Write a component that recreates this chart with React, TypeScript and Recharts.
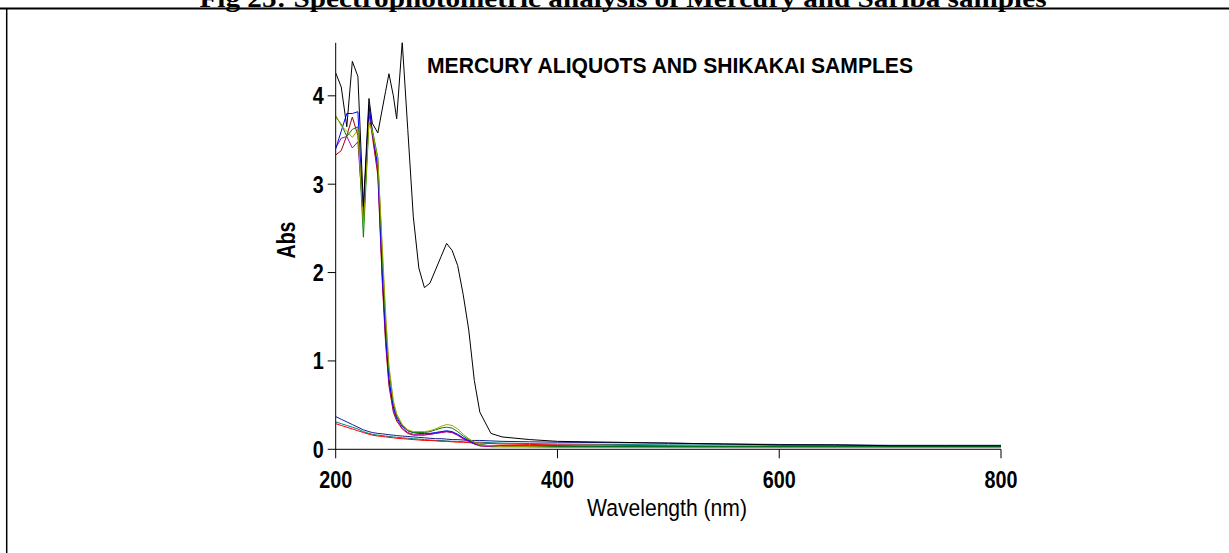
import { LineChart, Line, XAxis, YAxis } from "recharts";

// wavelength grid (nm) shared by every trace
const WAVELENGTH = [
  200, 205, 210, 215, 220, 225, 230, 233, 238, 242, 245, 248, 252, 255, 260, 265, 270,
  275, 280, 285, 290, 295, 300, 305, 310, 315, 320, 325, 330, 340, 350, 375, 400, 450,
  500, 550, 600, 650, 700, 750, 800,
];

// mercury aliquot (black trace)
const MERCURY = [
  4.26, 4.1, 3.65, 4.39, 4.22, 2.75, 3.97, 3.69, 3.58, 3.85, 4.05, 4.25, 4.0, 3.74, 4.61, 3.62, 2.63,
  2.05, 1.83, 1.88, 2.03, 2.18, 2.33, 2.25, 2.08, 1.75, 1.35, 0.78, 0.42, 0.18, 0.14, 0.11, 0.09, 0.08,
  0.07, 0.06, 0.05, 0.05, 0.04, 0.04, 0.04,
];

// shikakai samples
const BLUE = [
  3.4, 3.6, 3.8, 3.8, 3.82, 2.65, 3.9, 3.6, 3.2, 2.0, 1.31, 0.8, 0.48, 0.36, 0.26, 0.21, 0.19,
  0.18, 0.18, 0.18, 0.19, 0.2, 0.21, 0.2, 0.17, 0.13, 0.1, 0.07, 0.05, 0.04, 0.04, 0.04, 0.04, 0.03,
  0.03, 0.03, 0.03, 0.03, 0.03, 0.03, 0.03,
];
const MAROON = [
  3.33, 3.38, 3.55, 3.76, 3.55, 2.7, 3.8, 3.55, 3.1, 1.9, 1.2, 0.72, 0.42, 0.32, 0.23, 0.18, 0.16,
  0.16, 0.16, 0.17, 0.18, 0.19, 0.2, 0.19, 0.16, 0.12, 0.09, 0.06, 0.04, 0.03, 0.03, 0.03, 0.03, 0.03,
  0.02, 0.02, 0.02, 0.02, 0.02, 0.02, 0.02,
];
const MAGENTA = [
  3.41, 3.52, 3.54, 3.41, 3.48, 2.6, 3.87, 3.6, 3.15, 1.95, 1.25, 0.76, 0.45, 0.34, 0.24, 0.19, 0.17,
  0.17, 0.17, 0.17, 0.18, 0.19, 0.2, 0.19, 0.16, 0.12, 0.09, 0.06, 0.04, 0.03, 0.03, 0.03, 0.03, 0.03,
  0.03, 0.02, 0.02, 0.02, 0.02, 0.02, 0.02,
];
const GREEN = [
  3.76, 3.68, 3.54, 3.62, 3.65, 2.4, 3.7, 3.62, 3.3, 2.2, 1.45, 0.9, 0.52, 0.38, 0.27, 0.21, 0.19,
  0.19, 0.19, 0.2, 0.22, 0.24, 0.25, 0.24, 0.2, 0.15, 0.11, 0.08, 0.05, 0.04, 0.04, 0.03, 0.03, 0.03,
  0.03, 0.03, 0.03, 0.03, 0.03, 0.03, 0.03,
];
const OLIVE = [
  3.78, 3.66, 3.6, 3.53, 3.61, 2.55, 3.7, 3.6, 3.28, 2.3, 1.55, 0.95, 0.55, 0.4, 0.28, 0.22, 0.2,
  0.2, 0.2, 0.21, 0.23, 0.26, 0.28, 0.27, 0.23, 0.17, 0.12, 0.08, 0.05, 0.04, 0.03, 0.03, 0.02, 0.02,
  0.02, 0.02, 0.02, 0.02, 0.02, 0.02, 0.02,
];

// low-absorbing aliquots
const NAVY = [
  0.37, 0.34, 0.31, 0.28, 0.25, 0.22, 0.2, 0.19, 0.18, 0.175, 0.17, 0.165, 0.16, 0.155, 0.15, 0.145, 0.14,
  0.135, 0.13, 0.125, 0.12, 0.12, 0.115, 0.11, 0.11, 0.105, 0.1, 0.1, 0.1, 0.095, 0.09, 0.085, 0.08, 0.075,
  0.07, 0.06, 0.055, 0.05, 0.045, 0.045, 0.045,
];
const TEAL = [
  0.31, 0.29, 0.27, 0.25, 0.23, 0.2, 0.18, 0.17, 0.16, 0.155, 0.15, 0.145, 0.14, 0.135, 0.13, 0.125, 0.12,
  0.115, 0.11, 0.105, 0.1, 0.1, 0.095, 0.09, 0.09, 0.085, 0.08, 0.08, 0.08, 0.075, 0.07, 0.065, 0.06, 0.055,
  0.05, 0.05, 0.045, 0.045, 0.04, 0.04, 0.04,
];
const RED = [
  0.29, 0.27, 0.25, 0.23, 0.21, 0.19, 0.17, 0.16, 0.15, 0.145, 0.14, 0.135, 0.13, 0.125, 0.12, 0.115, 0.11,
  0.105, 0.1, 0.1, 0.095, 0.09, 0.09, 0.085, 0.08, 0.08, 0.075, 0.07, 0.07, 0.065, 0.06, 0.055, 0.05, 0.045,
  0.04, 0.035, 0.03, 0.03, 0.025, 0.025, 0.025,
];

const X_TICKS = [200, 400, 600, 800];
const Y_TICKS = [0, 1, 2, 3, 4];

const SERIES = [
  { key: "navy", values: NAVY, color: "#1a1a8c" },
  { key: "teal", values: TEAL, color: "#008080" },
  { key: "red", values: RED, color: "#ff0000" },
  { key: "maroon", values: MAROON, color: "#a00000" },
  { key: "magenta", values: MAGENTA, color: "#b000b0" },
  { key: "blue", values: BLUE, color: "#0000ff" },
  { key: "green", values: GREEN, color: "#008000" },
  { key: "olive", values: OLIVE, color: "#a0a000" },
  { key: "mercury", values: MERCURY, color: "#000000" },
];

const data = WAVELENGTH.map((w, i) => {
  const row: Record<string, number> = { w };
  SERIES.forEach((s) => (row[s.key] = s.values[i]));
  return row;
});

const SANS = "'Liberation Sans', Arial, sans-serif";

function XTick({ x, y, payload }: any) {
  const label = String(payload.value);
  return (
    <text
      x={x}
      y={y + 28}
      textAnchor="middle"
      fontFamily={SANS}
      fontWeight="bold"
      fontSize={24}
      textLength={11 * label.length}
      lengthAdjust="spacingAndGlyphs"
      fill="#000"
    >
      {label}
    </text>
  );
}

function YTick({ x, y, payload }: any) {
  const label = String(payload.value);
  return (
    <text
      x={x}
      y={y + 8.5}
      textAnchor="end"
      fontFamily={SANS}
      fontWeight="bold"
      fontSize={24}
      textLength={11 * label.length}
      lengthAdjust="spacingAndGlyphs"
      fill="#000"
    >
      {label}
    </text>
  );
}

export default function App() {
  return (
    <div style={{ position: "absolute", left: 0, top: 0, width: 1229, height: 553, background: "#fff" }}>
      <LineChart
        width={1229}
        height={553}
        data={data}
        margin={{ top: 42.8, right: 228, bottom: 0, left: 0 }}
      >
        <XAxis
          dataKey="w"
          type="number"
          domain={[200, 800]}
          ticks={X_TICKS}
          height={103.7}
          tickSize={9}
          tickMargin={2}
          stroke="#000"
          tick={XTick}
          allowDataOverflow
        />
        <YAxis
          type="number"
          domain={[0, 4.6]}
          ticks={Y_TICKS}
          width={335.7}
          tickSize={8}
          tickMargin={4}
          stroke="#000"
          tick={YTick}
          allowDataOverflow
        />
        {SERIES.map((s) => (
          <Line
            key={s.key}
            dataKey={s.key}
            type="linear"
            stroke={s.color}
            strokeWidth={1}
            dot={false}
            activeDot={false}
            isAnimationActive={false}
          />
        ))}
      </LineChart>
      <svg
        width={1229}
        height={553}
        style={{ position: "absolute", left: 0, top: 0, pointerEvents: "none" }}
      >
        {/* page caption, clipped by the top edge as in the source scan */}
        <text
          x={623}
          y={6.5}
          textAnchor="middle"
          fontFamily="'Liberation Serif', 'Times New Roman', serif"
          fontWeight="bold"
          fontSize={26}
          textLength={847}
          lengthAdjust="spacingAndGlyphs"
        >
          Fig 25: Spectrophotometric analysis of Mercury and Sariba samples
        </text>
        <line x1={0} y1={8.5} x2={1229} y2={8.5} stroke="#000" strokeWidth={2} />
        <line x1={6.7} y1={8} x2={6.7} y2={553} stroke="#000" strokeWidth={1.5} />
        <text
          x={427}
          y={73}
          fontFamily={SANS}
          fontWeight="bold"
          fontSize={22}
          textLength={486}
          lengthAdjust="spacingAndGlyphs"
        >
          MERCURY ALIQUOTS AND SHIKAKAI SAMPLES
        </text>
        <text
          x={667}
          y={516}
          textAnchor="middle"
          fontFamily={SANS}
          fontSize={24.5}
          textLength={160}
          lengthAdjust="spacingAndGlyphs"
        >
          Wavelength (nm)
        </text>
        <text
          transform="translate(295 240) rotate(-90)"
          textAnchor="middle"
          fontFamily={SANS}
          fontWeight="bold"
          fontSize={25}
          textLength={37}
          lengthAdjust="spacingAndGlyphs"
        >
          Abs
        </text>
      </svg>
    </div>
  );
}
